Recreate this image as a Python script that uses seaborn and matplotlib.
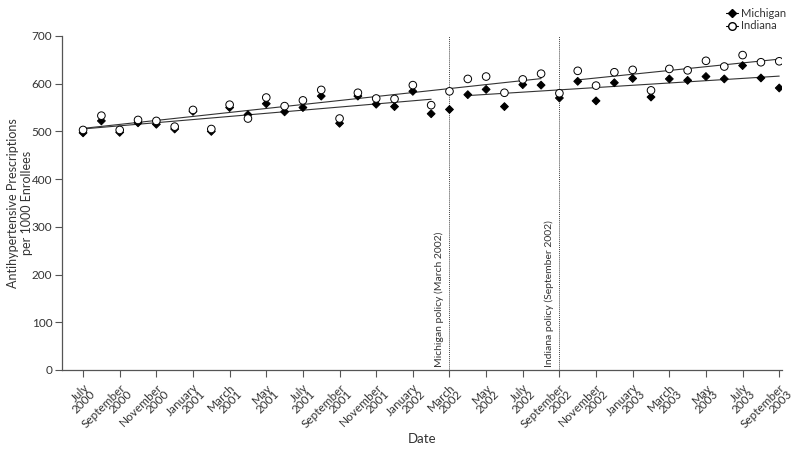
import numpy as np
import pandas as pd
import matplotlib
matplotlib.use('Agg')
import matplotlib.pyplot as plt
from matplotlib.lines import Line2D
import seaborn as sns

# monthly values, July 2000 .. September 2003
months = ['July\n2000', 'August\n2000', 'September\n2000', 'October\n2000', 'November\n2000', 'December\n2000',
          'January\n2001', 'February\n2001', 'March\n2001', 'April\n2001', 'May\n2001', 'June\n2001',
          'July\n2001', 'August\n2001', 'September\n2001', 'October\n2001', 'November\n2001', 'December\n2001',
          'January\n2002', 'February\n2002', 'March\n2002', 'April\n2002', 'May\n2002', 'June\n2002',
          'July\n2002', 'August\n2002', 'September\n2002', 'October\n2002', 'November\n2002', 'December\n2002',
          'January\n2003', 'February\n2003', 'March\n2003', 'April\n2003', 'May\n2003', 'June\n2003',
          'July\n2003', 'August\n2003', 'September\n2003']
michigan = [497, 522, 498, 518, 515, 505, 542, 500, 550, 535, 558, 541, 550, 574, 517, 574, 557, 552, 584, 537,
            546, 577, 588, 552, 598, 597, 570, 605, 564, 602, 611, 572, 610, 607, 615, 610, 638, 612, 591]
indiana = [503, 533, 503, 524, 522, 510, 545, 505, 556, 527, 571, 553, 565, 587, 527, 581, 569, 568, 597, 555,
           584, 610, 615, 581, 609, 621, 580, 627, 596, 624, 629, 586, 631, 628, 648, 636, 660, 645, 647]
mi_policy = 20  # March 2002
in_policy = 26  # September 2002

idx = np.arange(len(months))
df = pd.DataFrame({
    'month': np.concatenate([idx, idx]),
    'value': michigan + indiana,
    'state': ['Michigan'] * len(idx) + ['Indiana'] * len(idx),
})

sns.set_style('white')
plt.rcParams['font.family'] = ['Lato', 'DejaVu Sans']
grey = '#555555'
txt_col = '#333333'

fig = plt.figure(figsize=(8, 4.5), dpi=100)
ax = fig.add_axes([0.0775, 0.178, 0.9, 0.742])

# segmented trend lines
line_kw = dict(color='#333333', lw=0.8)
segs = [
    df[(df.state == 'Michigan') & (df.month < mi_policy)],
    df[(df.state == 'Michigan') & (df.month > mi_policy)],
    df[(df.state == 'Indiana') & (df.month < in_policy)],
    df[(df.state == 'Indiana') & (df.month > in_policy)],
]
for seg in segs:
    sns.regplot(data=seg, x='month', y='value', scatter=False, ci=None, truncate=True,
                line_kws=line_kw, ax=ax)

sns.scatterplot(data=df, x='month', y='value', hue='state', style='state', size='state',
                markers={'Michigan': 'D', 'Indiana': 'o'},
                palette={'Michigan': 'black', 'Indiana': 'white'},
                sizes={'Michigan': 16, 'Indiana': 30},
                edgecolor='black', linewidth=0.7, legend=False, ax=ax, zorder=3)

# policy lines
for pos, txt in [(mi_policy, 'Michigan policy (March 2002)'), (in_policy, 'Indiana policy (September 2002)')]:
    ax.axvline(pos, ymin=0, ymax=1, color='#444444', lw=0.7, ls=(0, (1, 1)))
    ax.text(pos - 0.3, 6, txt, rotation=90, ha='right', va='bottom', fontsize=7.5, color=txt_col)

ax.set_xlim(-1.15, 38.15)
ax.set_ylim(0, 700)
ax.set_yticks(range(0, 701, 100))
ax.set_xticks(idx[::2])
ax.set_xticklabels(months[::2], rotation=45, ha='right', rotation_mode='anchor',
                   fontsize=8.5, color=txt_col, linespacing=0.85)
ax.tick_params(axis='y', labelsize=8.5, labelcolor=txt_col, pad=2)
ax.tick_params(axis='both', direction='out', length=5, width=0.8, color=grey, bottom=True, left=True)
sns.despine(ax=ax)
for s in ['left', 'bottom']:
    ax.spines[s].set_color(grey)
    ax.spines[s].set_linewidth(0.9)

ax.set_xlabel('Date', fontsize=9.5, color=txt_col)
ax.xaxis.set_label_coords(0.5, -0.19)
ax.set_ylabel('Antihypertensive Prescriptions\nper 1000 Enrollees', fontsize=9, color=txt_col)
ax.yaxis.set_label_coords(-0.04, 0.5)

handles = [
    Line2D([], [], color='black', lw=0.8, marker='D', markersize=4.5, markerfacecolor='black', label='Michigan'),
    Line2D([], [], color='black', lw=0.8, marker='o', markersize=5.5, markerfacecolor='white', label='Indiana'),
]
fig.legend(handles=handles, loc='upper right', bbox_to_anchor=(0.995, 1.005), frameon=False,
           fontsize=8, handlelength=1.0, handletextpad=0.3, labelspacing=0.15, labelcolor=txt_col)

fig.savefig('out.png', dpi=100)
